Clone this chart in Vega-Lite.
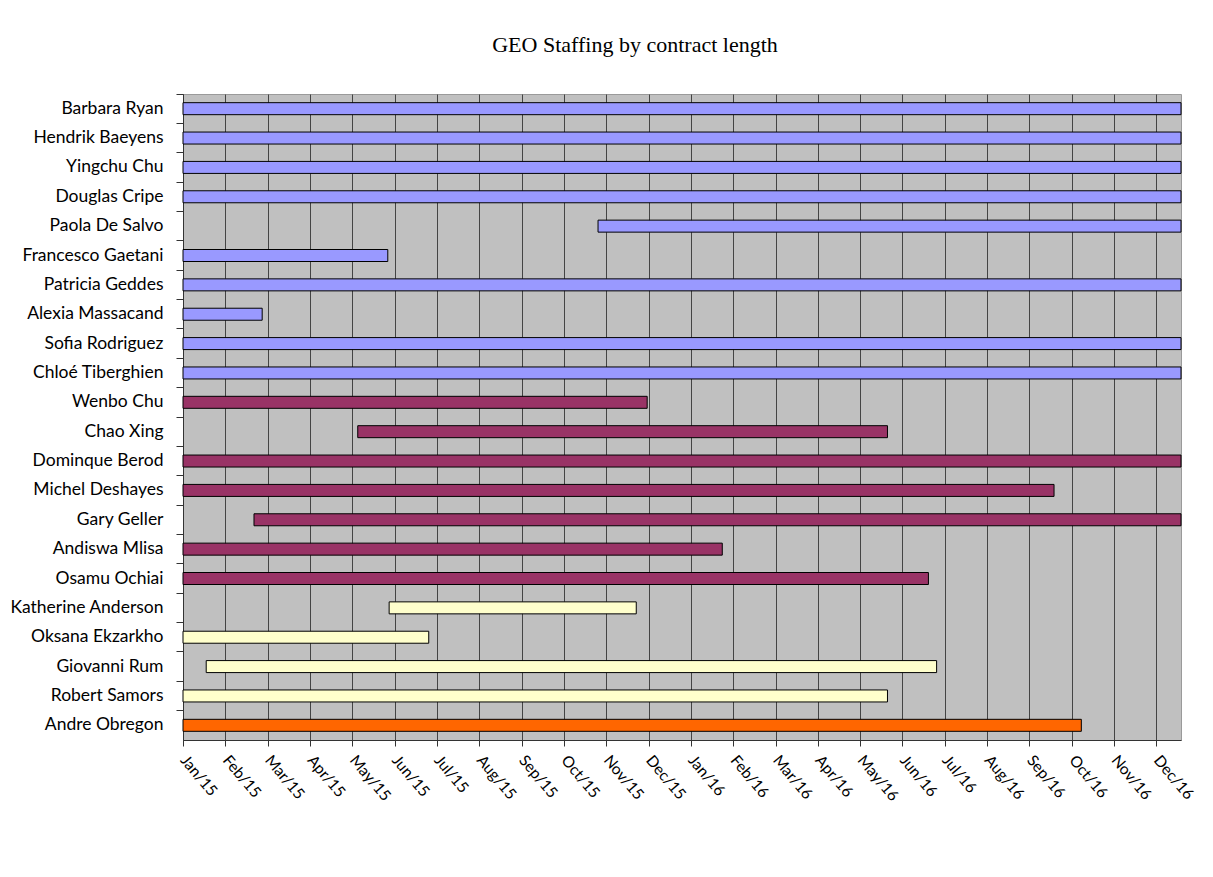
{
  "$schema": "https://vega.github.io/schema/vega-lite/v6.json",
  "width": 998,
  "height": 646,
  "autosize": {"type": "none"},
  "padding": {"left": 183, "top": 94, "right": 32, "bottom": 137},
  "background": "white",
  "title": {
    "text": "GEO Staffing by contract length",
    "font": "Liberation Serif",
    "fontSize": 22,
    "fontWeight": "normal",
    "color": "black",
    "anchor": "middle",
    "dx": -47,
    "baseline": "alphabetic",
    "offset": 20
  },
  "config": {"view": {"fill": "#C0C0C0", "stroke": "#9a9a9a"}},
  "data": {
    "values": [
      {"name": "Barbara Ryan", "start": "2015-01-01", "end": "2017-01-01", "group": "A"},
      {"name": "Hendrik Baeyens", "start": "2015-01-01", "end": "2017-01-01", "group": "A"},
      {"name": "Yingchu Chu", "start": "2015-01-01", "end": "2017-01-01", "group": "A"},
      {"name": "Douglas Cripe", "start": "2015-01-01", "end": "2017-01-01", "group": "A"},
      {"name": "Paola De Salvo", "start": "2015-11-01", "end": "2017-01-01", "group": "A"},
      {"name": "Francesco Gaetani", "start": "2015-01-01", "end": "2015-05-31", "group": "A"},
      {"name": "Patricia Geddes", "start": "2015-01-01", "end": "2017-01-01", "group": "A"},
      {"name": "Alexia Massacand", "start": "2015-01-01", "end": "2015-02-28", "group": "A"},
      {"name": "Sofia Rodriguez", "start": "2015-01-01", "end": "2017-01-01", "group": "A"},
      {"name": "Chloé Tiberghien", "start": "2015-01-01", "end": "2017-01-01", "group": "A"},
      {"name": "Wenbo Chu", "start": "2015-01-01", "end": "2015-12-07", "group": "B"},
      {"name": "Chao Xing", "start": "2015-05-09", "end": "2016-05-31", "group": "B"},
      {"name": "Dominque Berod", "start": "2015-01-01", "end": "2017-01-01", "group": "B"},
      {"name": "Michel Deshayes", "start": "2015-01-01", "end": "2016-09-30", "group": "B"},
      {"name": "Gary Geller", "start": "2015-02-22", "end": "2017-01-01", "group": "B"},
      {"name": "Andiswa Mlisa", "start": "2015-01-01", "end": "2016-01-31", "group": "B"},
      {"name": "Osamu Ochiai", "start": "2015-01-01", "end": "2016-06-30", "group": "B"},
      {"name": "Katherine Anderson", "start": "2015-06-01", "end": "2015-11-29", "group": "C"},
      {"name": "Oksana Ekzarkho", "start": "2015-01-01", "end": "2015-06-30", "group": "C"},
      {"name": "Giovanni Rum", "start": "2015-01-18", "end": "2016-07-06", "group": "C"},
      {"name": "Robert Samors", "start": "2015-01-01", "end": "2016-05-31", "group": "C"},
      {"name": "Andre Obregon", "start": "2015-01-01", "end": "2016-10-20", "group": "D"}
    ]
  },
  "mark": {"type": "bar", "size": 12, "stroke": "black", "strokeWidth": 1},
  "encoding": {
    "y": {
      "field": "name",
      "type": "nominal",
      "sort": null,
      "scale": {"paddingInner": 0, "paddingOuter": 0},
      "axis": {
        "title": null,
        "bandPosition": 0,
        "labelFont": "Lato",
        "labelFontSize": 17.5,
        "labelColor": "black",
        "labelPadding": 13,
        "tickSize": 7,
        "tickColor": "#333333",
        "domainColor": "#333333",
        "grid": false
      }
    },
    "x": {
      "field": "start",
      "type": "temporal",
      "scale": {
        "type": "utc",
        "domain": [
          {"year": 2015, "month": 1, "date": 1, "utc": true},
          {"year": 2017, "month": 1, "date": 1, "utc": true}
        ]
      },
      "axis": {
        "title": null,
        "values": [
          {"year": 2015, "month": 1, "date": 1, "utc": true},
          {"year": 2015, "month": 2, "date": 1, "utc": true},
          {"year": 2015, "month": 3, "date": 4, "utc": true},
          {"year": 2015, "month": 4, "date": 4, "utc": true},
          {"year": 2015, "month": 5, "date": 5, "utc": true},
          {"year": 2015, "month": 6, "date": 5, "utc": true},
          {"year": 2015, "month": 7, "date": 6, "utc": true},
          {"year": 2015, "month": 8, "date": 6, "utc": true},
          {"year": 2015, "month": 9, "date": 6, "utc": true},
          {"year": 2015, "month": 10, "date": 7, "utc": true},
          {"year": 2015, "month": 11, "date": 7, "utc": true},
          {"year": 2015, "month": 12, "date": 8, "utc": true},
          {"year": 2016, "month": 1, "date": 8, "utc": true},
          {"year": 2016, "month": 2, "date": 8, "utc": true},
          {"year": 2016, "month": 3, "date": 10, "utc": true},
          {"year": 2016, "month": 4, "date": 10, "utc": true},
          {"year": 2016, "month": 5, "date": 11, "utc": true},
          {"year": 2016, "month": 6, "date": 11, "utc": true},
          {"year": 2016, "month": 7, "date": 12, "utc": true},
          {"year": 2016, "month": 8, "date": 12, "utc": true},
          {"year": 2016, "month": 9, "date": 12, "utc": true},
          {"year": 2016, "month": 10, "date": 13, "utc": true},
          {"year": 2016, "month": 11, "date": 13, "utc": true},
          {"year": 2016, "month": 12, "date": 14, "utc": true}
        ],
        "labelExpr": "utcFormat(datum.value, '%b/%y')",
        "labelAngle": 50,
        "labelAlign": "left",
        "labelBaseline": "middle",
        "labelFont": "Lato",
        "labelFontSize": 15.5,
        "labelColor": "black",
        "labelPadding": 11,
        "labelFlush": false,
        "labelOverlap": false,
        "labelBound": false,
        "tickSize": 6,
        "tickColor": "#333333",
        "domainColor": "#333333",
        "grid": true,
        "gridColor": "#444444",
        "gridWidth": 1,
        "gridOpacity": 1
      }
    },
    "x2": {"field": "end"},
    "color": {
      "field": "group",
      "type": "nominal",
      "scale": {"domain": ["A", "B", "C", "D"], "range": ["#9999FF", "#993366", "#FFFFCC", "#FF6600"]},
      "legend": null
    }
  }
}
